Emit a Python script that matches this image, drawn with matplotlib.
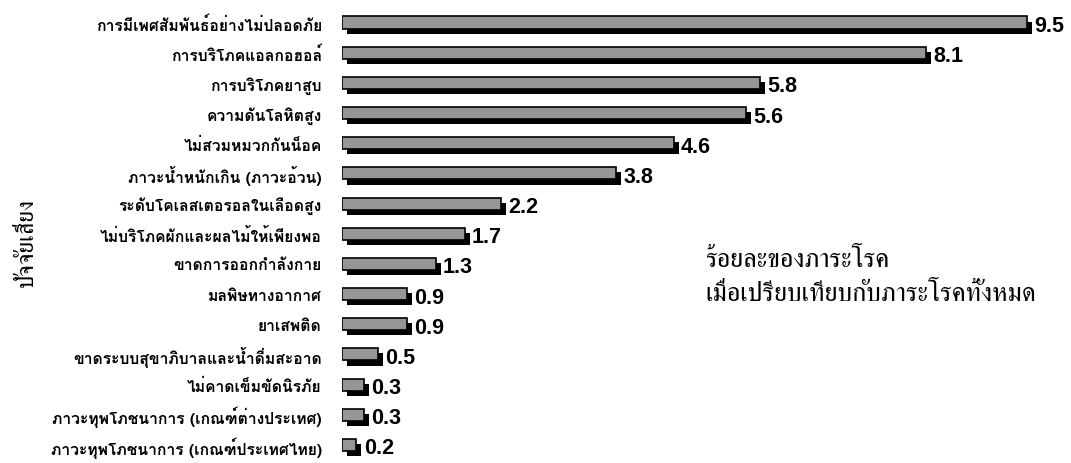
import matplotlib
matplotlib.use('Agg')
import matplotlib.pyplot as plt

factors = ['การมีเพศสัมพันธ์อย่างไม่ปลอดภัย', 'การบริโภคแอลกอฮอล์', 'การบริโภคยาสูบ',
           'ความดันโลหิตสูง', 'ไม่สวมหมวกกันน็อค', 'ภาวะน้ำหนักเกิน (ภาวะอ้วน)',
           'ระดับโคเลสเตอรอลในเลือดสูง', 'ไม่บริโภคผักและผลไม้ให้เพียงพอ', 'ขาดการออกกำลังกาย',
           'มลพิษทางอากาศ', 'ยาเสพติด', 'ขาดระบบสุขาภิบาลและน้ำดื่มสะอาด',
           'ไม่คาดเข็มขัดนิรภัย', 'ภาวะทุพโภชนาการ (เกณฑ์ต่างประเทศ)',
           'ภาวะทุพโภชนาการ (เกณฑ์ประเทศไทย)']
percent = [9.5, 8.1, 5.8, 5.6, 4.6, 3.8, 2.2, 1.7, 1.3, 0.9, 0.9, 0.5, 0.3, 0.3, 0.2]

ypos = list(range(len(factors)))

fig = plt.figure(figsize=(10.71, 4.64), dpi=100)
ax = fig.add_axes([342 / 1071, 0, 1 - 342 / 1071, 1])

# shadow first, then the grey face on top
ax.barh([y + 0.17 for y in ypos], percent, height=0.4, left=0.07, color='black')
ax.barh(ypos, percent, height=0.4, color='#969696', edgecolor='black', linewidth=1.2)

for y, v in zip(ypos, percent):
    ax.text(v + 0.1, y + 0.1, '%.1f' % v, va='center', ha='left',
            fontsize=15.5, fontweight='bold', family='Liberation Sans')

ax.set_yticks(ypos)
ax.set_yticklabels(factors, family=['Loma', 'DejaVu Sans'], fontsize=11.3, fontweight='bold')
ax.tick_params(axis='y', length=0, pad=14.5)
ax.set_xticks([])
ax.set_xlim(0, 729 / 72.1)
ax.set_ylim(14.6, -0.78)
for s in ax.spines.values():
    s.set_visible(False)

fig.text(27 / 1071, 1 - 243 / 464, 'ปัจจัยเสี่ยง', rotation=90, va='center', ha='center',
         family=['FreeSerif', 'DejaVu Sans'], fontsize=17)
fig.text(705 / 1071, 1 - 278 / 464, 'ร้อยละของภาระโรค\nเมื่อเปรียบเทียบกับภาระโรคทั้งหมด',
         va='center', ha='left', family=['FreeSerif', 'DejaVu Sans'], fontsize=19,
         linespacing=1.6)

fig.savefig('out.png', dpi=100)
